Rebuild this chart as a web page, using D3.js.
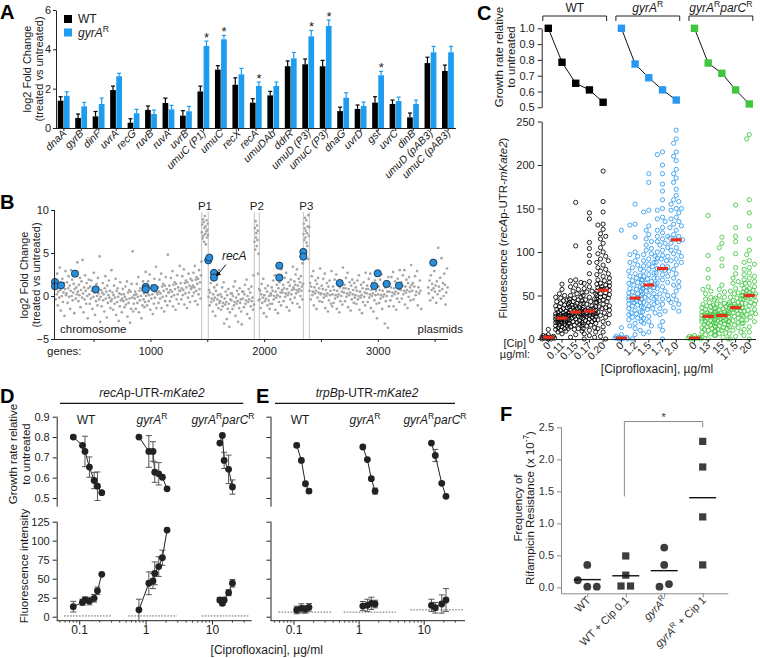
<!DOCTYPE html>
<html><head><meta charset="utf-8">
<script src="https://cdn.jsdelivr.net/npm/d3@7/dist/d3.min.js"></script>
<style>
body{margin:0;background:#fff;}
svg{font-family:"Liberation Sans",Arial,Helvetica,sans-serif;}
.ax path,.ax line{stroke:#222;stroke-width:1;}
.ax text{font-size:11px;fill:#222;font-family:"Liberation Sans",Arial,sans-serif;}
.gx path,.gx line{stroke:#8a8a8a;stroke-width:1;}
.gx text{font-size:11px;fill:#333;font-family:"Liberation Sans",Arial,sans-serif;}
</style></head><body>
<svg id="fig" width="760" height="658"></svg>
<script>
// ===================== DATA =====================
// Panel A
const genesA = ["dnaA","gyrB","dinF","uvrA","recG","ruvB","ruvA","uvrB","umuC (P1)","umuC","recX","recA","umuDAb","ddrR","umuD (P3)","umuC (P3)","dnaG","uvrD","gst","uvrC","dinB","umuD (pAB3)","umuC (pAB3)"];
const wtA     = [1.39,0.51,0.59,1.93,0.27,0.92,1.27,0.63,1.86,2.97,2.20,1.29,1.66,3.14,3.24,3.14,0.86,0.97,1.29,1.22,0.54,3.30,2.90];
const wtErrA  = [0.20,0.20,0.25,0.20,0.20,0.20,0.25,0.25,0.27,0.20,0.35,0.20,0.20,0.27,0.27,0.30,0.20,0.20,0.30,0.20,0.22,0.30,0.30];
const gyrAvals= [1.64,1.10,1.22,2.63,0.75,0.71,0.95,0.85,4.17,4.51,2.73,2.14,2.14,3.54,4.66,5.19,1.54,1.12,2.68,1.37,1.22,3.85,3.85];
const gyrErrA = [0.20,0.20,0.30,0.15,0.20,0.20,0.20,0.25,0.25,0.20,0.30,0.20,0.20,0.30,0.30,0.30,0.25,0.20,0.20,0.20,0.20,0.30,0.30];
const starA   = ["umuC (P1)","umuC","recA","umuD (P3)","umuC (P3)","gst"];

// Panel B
const cloudStart = [160,260,360,460,560,660,760,860,960,1060,1160,1260,1360,1451,1509,1610,1710,1810,1914,1958,2060,2160,2260,2345,2398,2500,2600,2700,2800,2900,3000,3100,3200,3300,3440];
const cloudEnd   = [260,360,460,560,660,760,860,960,1060,1160,1260,1360,1451,1509,1610,1710,1810,1914,1958,2060,2160,2260,2345,2398,2500,2600,2700,2800,2900,3000,3100,3200,3300,3385,3617];
const cloudVals = [
[0.9,-0.4,1.8,0.2,2.6,-1.1,0.5,1.3,-0.2,3.3,0.7,-1.7,1.1,0.0,2.0,-0.7,0.4,1.5,-2.3,0.8,2.9,0.1],
[0.3,1.6,-0.8,0.9,2.3,-0.1,1.2,-1.5,0.6,3.0,0.0,1.9,-0.5,0.4,1.4,-2.0,0.8,2.5,-0.3,1.0,0.2,3.9],
[0.5,-0.6,1.3,0.1,2.1,-1.3,0.7,1.7,-0.2,4.2,0.3,-1.9,1.0,-0.4,2.4,0.6,-0.9,1.5,0.0,-2.6,0.9,1.9],
[0.2,-0.9,1.1,-0.3,1.8,0.6,-1.5,0.9,-0.1,2.7,0.4,-2.2,0.8,-0.6,1.4,0.0,-1.1,2.1,0.3,-0.4,4.6,-3.0],
[-0.1,0.7,-1.2,0.4,1.5,-0.5,0.2,-1.8,0.9,2.3,-0.3,0.5,-2.5,1.2,-0.8,0.1,1.8,-0.2,0.6,-1.4,-0.6,3.0],
[-0.4,0.4,-1.6,0.1,1.2,-0.9,-0.2,2.0,-2.2,0.6,-0.7,0.9,-0.1,-2.9,0.3,-1.2,1.6,-0.5,0.2,-1.9,-0.3,0.8],
[-0.6,0.2,-1.3,-0.1,1.1,-1.0,-0.4,1.7,-2.4,0.4,-0.8,0.7,-0.3,-3.1,0.5,-1.5,1.4,-0.2,5.2,-1.8,-0.9,0.1],
[-0.3,0.5,-1.5,0.2,1.4,-0.8,-0.1,2.2,-1.9,0.6,-0.5,0.9,0.0,-2.6,0.7,-1.1,1.7,-0.4,0.3,-1.3,-0.7,2.8],
[0.0,0.7,-1.1,0.3,1.7,-0.6,0.1,2.5,-1.6,0.9,-0.3,1.2,0.2,-2.1,1.0,-0.9,2.0,-0.2,0.5,3.4,-1.4,0.4],
[0.2,1.0,-0.8,0.5,1.9,-0.3,0.3,2.6,-1.4,1.1,-0.1,1.4,0.6,-1.8,1.2,-0.6,2.2,0.0,0.8,-1.1,4.8,0.4],
[0.4,1.2,-0.6,0.7,2.1,-0.1,0.5,2.9,-1.2,1.3,0.1,1.6,0.8,-1.6,1.4,-0.4,2.4,0.2,1.0,-0.9,0.6,3.5],
[0.6,1.5,-0.4,0.9,2.3,0.1,0.7,3.1,-1.0,1.5,0.3,1.8,1.0,-1.4,1.6,-0.2,2.6,0.4,1.2,-0.7,2.0,0.8],
[1.0,1.8,0.0,1.2,2.7,0.4,1.0,3.5,-0.6,1.9,0.6,2.2,1.4,-1.0,2.0,0.2,3.0,0.8,1.6,-0.3,2.4,4.0],
[7.4,8.3,6.7,8.9,7.0,8.6,6.3,7.9,9.3,7.2,8.1,6.0,7.5,8.8,6.8,7.7,8.4,7.1],
[-0.1,0.7,-1.1,0.4,1.5,-0.7,-0.3,2.1,-1.8,0.2,-0.5,1.0,-0.2,-2.3,0.6,-1.0,1.3,-0.4,0.1,-1.4,3.0,-0.8],
[-0.6,0.2,-1.6,-0.1,1.0,-1.2,-0.8,1.6,-3.2,-0.3,-1.0,0.5,-0.7,-2.7,0.1,-1.5,0.8,-0.9,-3.6,-1.9,-0.4,0.3],
[-0.5,0.3,-1.5,0.0,1.1,-1.1,-0.7,1.7,-2.3,-0.2,-0.9,0.6,-0.6,-3.0,0.2,-1.4,0.9,-0.8,-0.4,-1.8,-3.3,0.5],
[-0.3,0.5,-1.3,0.2,1.3,-0.9,-0.5,1.9,-2.1,0.0,-0.7,0.8,-0.4,-2.6,0.4,-1.2,1.1,-0.6,-0.2,-1.6,2.4,-1.0],
[6.3,7.9,5.4,8.7,6.8,7.3,5.8,8.2,6.5,7.6,2.6,4.9,-0.5,0.8],
[-0.4,0.6,-1.4,0.2,1.4,-0.8,-0.2,2.0,-2.0,0.1,-0.6,0.9,-0.3,-2.4,0.5,-1.1,1.2,-0.5,0.0,-1.5,-0.9,0.3],
[0.1,1.0,-0.9,0.6,1.8,-0.4,0.0,2.4,-1.6,0.5,-0.2,1.3,0.1,-2.0,0.9,-0.7,1.6,-0.1,0.4,-1.1,3.1,0.7],
[0.4,1.3,-0.6,0.9,2.1,-0.1,0.3,2.7,-1.3,0.8,0.1,1.6,0.4,-1.7,1.2,-0.4,1.9,0.2,0.7,-0.8,3.4,1.0],
[0.8,1.7,-0.2,1.3,2.5,0.3,0.7,3.1,-0.9,1.2,0.5,2.0,0.8,-1.3,1.6,0.0,2.3,0.6,1.1,-0.4,3.8,1.4],
[7.2,8.4,6.5,7.9,9.1,6.8,7.6,8.8,6.2,7.3,5.8,8.1,4.3,9.4,7.0,8.0],
[0.6,1.5,-0.4,1.1,2.3,0.1,0.5,2.9,-1.1,1.0,0.3,1.8,0.6,-1.5,1.4,-0.2,2.1,0.4,0.9,-0.6,3.2,0.2],
[0.3,1.2,-0.7,0.8,2.0,-0.2,0.2,2.6,-1.4,0.7,0.0,1.5,0.3,-1.8,1.1,-0.5,1.8,0.1,0.6,-0.9,2.9,-1.2],
[0.2,1.1,-0.8,0.7,1.9,-0.3,0.1,2.5,-1.5,0.6,-0.1,1.4,0.2,-1.9,1.0,-0.6,1.7,0.0,0.5,-1.0,3.3,0.9],
[0.4,1.3,-0.6,0.9,2.1,-0.1,0.3,2.7,-1.3,0.8,0.1,1.6,0.4,-1.7,1.2,-0.4,1.9,0.2,0.7,-0.8,1.5,-0.2],
[0.1,1.0,-0.9,0.6,1.8,-0.4,0.0,2.4,-1.6,0.5,-0.2,1.3,0.1,-2.0,0.9,-0.7,1.6,-0.1,0.4,-1.1,2.7,0.8],
[0.3,1.2,-0.7,0.8,2.0,-0.2,0.2,2.6,-1.4,0.7,0.0,1.5,0.3,-1.8,1.1,-0.5,1.8,0.1,0.6,-0.9,-2.6,1.2],
[0.2,1.1,-0.8,0.7,1.9,-0.3,0.1,2.5,-1.5,0.6,-0.1,1.4,0.2,-3.2,1.0,-0.6,1.7,0.0,0.5,-3.7,2.2,-1.2],
[0.5,1.4,-0.5,1.0,2.2,0.0,0.4,2.8,-1.2,0.9,0.2,1.7,0.5,-1.6,1.3,-0.3,2.0,0.3,0.8,-0.7,3.0,1.1],
[0.7,1.6,-0.3,1.2,2.4,0.2,0.6,3.0,-1.0,1.1,0.4,1.9,0.7,-1.4,1.5,-0.1,2.2,0.5,1.0,-0.5,3.6,1.3],
[0.6,1.5,-0.4,1.1,2.3,0.1,0.5,2.9,-1.1,1.0,0.3,1.8,0.6,-1.5],
[1.0,0.3,1.8,-0.5,2.4,0.7,1.4,-0.2,0.9,2.9,0.5,1.2,-0.8,1.7,0.2,5.6,1.1,0.6,2.1,-0.3,4.4,0.8,1.5,0.0,2.6,1.3,-1.0,0.4,3.2,1.0]
];
const hiGenes = [161,161,214,337,519,959,959,1034,1509,1518,1559,1559,2134,2134,2345,2345,2665,2969,2999,3078,3186,3488];
const hiVals  = [1.63,1.13,1.24,2.60,0.78,1.05,0.78,0.93,4.15,4.46,2.68,2.14,3.53,2.14,5.12,4.58,1.51,1.16,2.64,1.40,1.21,3.88];
const prophageEdges = [1451,1509,1914,1958,2345,2398];
const prophageNames = ["P1","P2","P3"];
const xTicksB = [1000,2000,3000];

// Panel C
const cGroups = [[["WT",""]],[["gyrA","i"],["R","s"]],[["gyrA","i"],["R","s"],["parC","i"],["R","s"]]];
const cCip = [["0","0.11","0.15","0.17","0.20"],["0","1.2","1.5","1.7","2.0"],["0","13","15","17.5","20"]];
const cGrowth = [[1.0,0.785,0.652,0.61,0.532],[1.0,0.774,0.687,0.61,0.546],[1.0,0.78,0.715,0.61,0.521]];
const cMedians = [[2,24,31,32,56],[1,47,62,81,114],[1,26,27,36,50]];
const cColors = ["#000000","#2a98f0","#3fc63f"];
const cFluor = [
 [
  [0,1,2,3,1,0,2,4,11,5,1,3,0,2],
  [24,18,31,12,27,45,8,22,36,15,29,50,20,26,11,33,41,19,25,6,38,23,14,30,47,21,17,28,35,63,9,24,43,16,27,32,13,52,22,39,18,26,57,25,20,34,10,28,44,23,15,30,48,19,37,21,27,12,24,40],
  [31,22,45,15,38,62,9,28,52,19,35,67,26,41,12,33,48,24,30,5,57,36,18,43,29,68,14,39,27,107,21,47,32,55,16,37,25,60,34,157,20,42,30,11,50,28,65,23,36,17,44,31,2,53,26,40,33,19,46,29],
  [32,20,48,10,38,64,4,27,55,15,36,88,24,43,8,33,60,21,30,0,75,35,13,45,28,96,17,40,26,111,22,50,31,58,12,37,25,138,34,145,19,42,29,6,52,27,66,23,35,16,46,30,2,104,26,41,33,18,54,29],
  [56,35,82,18,67,105,8,48,92,28,60,118,42,75,14,58,98,38,52,3,131,62,22,78,46,158,30,70,50,193,40,85,55,100,25,65,44,132,59,146,33,72,53,12,88,49,110,37,63,27,80,57,0,121,45,68,61,31,95,51,115,20,74,43,90,57,36,126,64,47]
 ],
 [
  [0,1,2,0,3,1,13,5,0,2,125,1],
  [47,30,68,15,55,90,5,38,78,22,50,100,35,62,10,45,85,28,42,131,72,52,18,65,40,155,25,58,44,117,33,70,48,95,20,60,39,132,53,80,26,64,46,0,88,42,75,31,57,24,67,49,12,97,37,82,54,29,73,45],
  [62,40,88,20,72,115,8,52,98,30,66,125,46,80,15,60,108,36,56,146,92,68,24,84,50,190,34,76,58,180,42,95,64,120,26,78,52,148,70,102,35,83,61,6,112,55,97,44,74,31,86,63,18,130,48,104,69,38,90,59],
  [81,52,115,28,95,150,10,68,128,40,88,170,60,105,20,78,140,48,74,200,118,90,32,110,65,215,45,100,76,190,55,125,84,160,35,102,70,212,92,135,46,108,80,0,148,72,122,58,96,42,112,83,15,178,64,138,93,50,118,79],
  [114,85,150,45,130,195,32,100,165,60,120,215,90,140,40,110,180,75,105,240,155,125,55,145,95,230,70,135,112,205,80,160,118,190,50,138,102,225,128,172,66,148,115,36,185,98,158,88,132,62,150,116,42,210,92]
 ],
 [
  [0,1,2,0,3,1,0,4,2,1],
  [26,15,38,6,30,48,2,20,42,10,28,55,18,34,4,25,45,13,22,96,36,27,8,32,19,142,11,29,24,70,16,40,26,60,9,31,21,52,28,80,14,35,25,0,46,23,39,17,30,12,37,27,5,57,20],
  [27,16,40,7,31,50,2,21,44,11,29,57,19,35,4,26,47,14,23,92,37,28,9,33,20,117,12,30,25,110,17,41,27,62,10,32,22,54,29,84,15,36,26,0,48,24,40,18,31,13,38,28,6,105,21],
  [36,22,52,10,42,66,3,30,58,16,38,75,26,46,6,34,62,20,32,112,48,37,13,44,28,154,18,40,35,128,24,55,36,82,14,42,30,70,38,98,21,47,35,0,64,33,53,25,41,19,50,37,8,118,29],
  [50,30,72,14,58,90,4,42,80,22,52,102,36,64,8,48,86,28,44,160,66,51,18,60,38,230,25,56,49,145,33,76,50,115,20,58,41,97,53,130,29,64,48,0,88,46,74,34,56,26,70,51,11,235,40,82,54,32,68,47]
 ]
];

// Panels D / E
const doseGroups = [[["WT",""]],[["gyrA","i"],["R","s"]],[["gyrA","i"],["R","s"],["parC","i"],["R","s"]]];
const dConc = [[0.08,0.11,0.12,0.14,0.165,0.185,0.215],[0.78,1.10,1.27,1.35,1.55,1.76,2.07],[12.9,14.1,15.0,17.5,20.0]];
const dGrowth = [[0.80,0.759,0.729,0.652,0.586,0.558,0.526],[0.80,0.729,0.729,0.627,0.619,0.602,0.545],[0.770,0.808,0.685,0.641,0.554]];
const dGrowthErr = [[0.008,0,0.075,0.05,0.04,0.07,0],[0,0.078,0.048,0.05,0.055,0,0],[0,0,0.04,0.07,0.035]];
const dFluor = [[13.2,19,22,20.6,24.2,34,55.8],[9,44,47,57,66,77.6,114],[22,17.6,22,31.6,44]];
const dFluorErr = [[7,4,4,5,5,5,0],[14,15,10,15,13,10,0],[3,3,3,4,5]];
const dBaseLo = [0.058,0.54,6.9], dBaseHi = [0.30,2.9,36], dBaseVal = [1,1,1];
const eConc = [[0.11,0.13,0.15,0.17],[1.14,1.34,1.54,1.76],[12.9,14.8,18.6,21.6]];
const eGrowth = [[0.759,0.685,0.57,0.534],[0.751,0.689,0.595,0.534],[0.77,0.709,0.572,0.508]];
const eGrowthErr = [[0.01,0,0,0.01],[0,0,0,0.015],[0,0.03,0,0]];
const eFluor = [[8.8,11,9.7,12.4],[14,15,17.6,16.7],[15,11.8,16.7,22]];
const eFluorErr = [[5,6,5,5],[6,8,8,5],[8,7,12,15]];
const eBaseLo = [0.058,0.58,6.1], eBaseHi = [0.385,3.66,39.8], eBaseVal = [6,6,9];
const logMajor = [0.1,1,10];
const logMinor = [0.05,0.06,0.07,0.08,0.09,0.2,0.3,0.4,0.5,0.6,0.7,0.8,0.9,2,3,4,5,6,7,8,9,20,30];

// Panel F
const fCats = ["WT","WT + Cip 0.1","gyrAR","gyrAR + Cip 1"];
const fLabels = [[["WT",""]],[["WT + Cip 0.1",""]],[["gyrA","i"],["R","s"]],[["gyrA","i"],["R","s"],[" + Cip 1",""]]];
const fVals = [[0.35,0.11,0.01,0.01],[0.49,0.19,0.02,0.02],[0.62,0.35,0.01,0.05],[2.28,1.88,1.10,0.35]];
const fMeans = [0.12,0.18,0.26,1.40];
const fShapes = ["circle","square","circle","square"];

// ===================== HELPERS =====================
const svg = d3.select("#fig");
const INK = "#1a1a1a";
function rich(parent, x, y, parts, o = {}) {
  const size = o.size || 11;
  const t = parent.append("text").attr("x", x).attr("y", y).attr("font-size", size)
    .attr("text-anchor", o.anchor || "middle").attr("fill", o.fill || INK);
  if (o.bold) t.attr("font-weight", "bold");
  if (o.rotate != null) t.attr("transform", `rotate(${o.rotate},${x},${y})`);
  let up = false;
  parts.forEach(([s, st]) => {
    const ts = t.append("tspan").text(s);
    if (st.includes("i")) ts.attr("font-style", "italic");
    if (st.includes("s")) { ts.attr("font-size", size * 0.72).attr("dy", -size * 0.4); up = true; }
    else if (up) { ts.attr("dy", size * 0.4); up = false; }
  });
  return t;
}
function label(parent, x, y, s, o = {}) { return rich(parent, x, y, [[s, o.italic ? "i" : ""]], o); }

// panel letters
[["A",0,19],["B",0,209],["C",477,20],["D",0,403],["E",256,403],["F",500,421]]
  .forEach(([s,x,y]) => label(svg, x, y, s, {size:20, bold:true, anchor:"start", fill:"#000"}));

// ===================== PANEL A =====================
{
  const g = svg.append("g");
  const xA = d3.scaleBand().domain(genesA).range([56,456]).paddingInner(0.3).paddingOuter(0.1);
  const yA = d3.scaleLinear().domain([0,6]).range([128,10]);
  const hb = xA.bandwidth()/2;
  function bars(vals, errs, off, color) {
    g.append("g").selectAll("rect").data(genesA).join("rect")
      .attr("x", d => xA(d)+off).attr("width", hb-0.4)
      .attr("y", (d,i) => yA(vals[i])).attr("height", (d,i) => yA(0)-yA(vals[i])).attr("fill", color);
    const eb = g.append("g").attr("stroke", color).attr("stroke-width", 1.2);
    genesA.forEach((d,i) => {
      const cx = xA(d)+off+hb/2-0.2, top = yA(vals[i]+errs[i]);
      eb.append("line").attr("x1",cx).attr("x2",cx).attr("y1",yA(vals[i])).attr("y2",top);
      eb.append("line").attr("x1",cx-2).attr("x2",cx+2).attr("y1",top).attr("y2",top);
    });
  }
  bars(wtA, wtErrA, 0, "#000");
  bars(gyrAvals, gyrErrA, hb, "#1e9cf0");
  starA.forEach(d => { const i = genesA.indexOf(d);
    label(g, xA(d)+hb*1.5, yA(gyrAvals[i]+gyrErrA[i])+1, "*", {size:13}); });
  g.append("g").attr("class","ax").attr("transform","translate(56,0)")
    .call(d3.axisLeft(yA).tickValues([0,2,4,6]).tickSize(3).tickPadding(2).tickSizeOuter(0).tickFormat(d3.format("d")))
    .call(a => a.selectAll("text").attr("font-size",11.5));
  g.append("g").attr("class","ax").attr("transform","translate(0,128)")
    .call(d3.axisBottom(xA).tickSize(3).tickSizeOuter(0).tickFormat(""))
    .call(a => a.select(".domain").attr("d","M56,0.5H456"));
  genesA.forEach(d => label(g, xA(d)+xA.bandwidth()/2+3, 134, d, {italic:true, anchor:"end", rotate:-45, size:10.5}));
  const leg = [["#000",[["WT",""]]],["#1e9cf0",[["gyrA","i"],["R","s"]]]];
  leg.forEach((d,i) => {
    g.append("rect").attr("x",64).attr("y",15+i*13.5).attr("width",8).attr("height",8).attr("fill",d[0]);
    rich(g, 78, 23+i*13.5, d[1], {anchor:"start", size:12});
  });
  label(g, 31, 69, "log2 Fold Change", {rotate:-90, size:11});
  label(g, 43, 69, "(treated vs untreated)", {rotate:-90, size:11});
}

// ===================== PANEL B =====================
{
  const g = svg.append("g");
  const xB = d3.scaleLinear().domain([0,4000]).range([36.7,491.5]);
  const yB = d3.scaleLinear().domain([-5,10]).range([339,210]);
  prophageEdges.forEach(e => g.append("line").attr("x1",xB(e)).attr("x2",xB(e)).attr("y1",212).attr("y2",339)
    .attr("stroke","#c4c4c4").attr("stroke-width",1));
  prophageNames.forEach((n,k) => label(g, (xB(prophageEdges[2*k])+xB(prophageEdges[2*k+1]))/2, 210, n, {size:11.5}));
  const pts = [];
  cloudVals.forEach((vals,b) => {
    const s = cloudStart[b], e = cloudEnd[b];
    vals.forEach((v,i) => pts.push({gene: s+(i+0.5)*(e-s)/vals.length, v}));
  });
  g.append("g").selectAll("circle").data(pts).join("circle")
    .attr("cx", d => xB(d.gene)).attr("cy", d => yB(d.v)).attr("r", 1.35).attr("fill","#a6a6a6");
  g.append("g").selectAll("circle").data(hiGenes).join("circle")
    .attr("cx", d => xB(d)).attr("cy", (d,i) => yB(hiVals[i])).attr("r", 3.6)
    .attr("fill","#2a8fd8").attr("stroke","#14324f").attr("stroke-width",0.9);
  // recA annotation
  const iRec = 11;
  const tx = xB(hiGenes[iRec]), ty = yB(hiVals[iRec]);
  g.append("line").attr("x1",tx+12).attr("y1",ty-13).attr("x2",tx+3).attr("y2",ty-2).attr("stroke","#111").attr("stroke-width",1);
  g.append("path").attr("d",`M${tx+2},${ty-1}l1.2,-5.5l4,3.4z`).attr("fill","#111");
  label(g, tx+8, ty-18, "recA", {italic:true, anchor:"start", size:12});
  g.append("g").attr("class","ax").attr("transform","translate(54,0)")
    .call(d3.axisLeft(yB).tickValues([-5,0,5,10]).tickSize(3).tickPadding(2).tickSizeOuter(0))
    .call(a => a.select(".domain").attr("d","M0.5,210V339.5"));
  const ax = g.append("g").attr("class","ax").attr("transform","translate(0,339)")
    .call(d3.axisBottom(xB).tickValues([500,1000,1500,2000,2500,3000,3500]).tickSize(3).tickSizeOuter(0)
      .tickFormat(d => xTicksB.includes(d) ? d : ""))
    .call(a => a.select(".domain").attr("d","M54,0.5H448"));
  ax.selectAll("text").attr("dy","0.9em");
  label(g, 60, 333, "chromosome", {anchor:"start", size:11.5});
  label(g, 463, 333, "plasmids", {anchor:"end", size:11.5});
  label(g, 47, 355, "genes:", {anchor:"start", size:11.5});
  label(g, 28, 275, "log2 Fold Change", {rotate:-90, size:11});
  label(g, 40, 275, "(treated vs untreated)", {rotate:-90, size:11});
}

// ===================== PANEL C =====================
{
  const g = svg.append("g");
  const slot = (k,i) => k*(5+1/3)+i;
  const xC = d3.scaleLinear().domain([0,14+2/3]).range([548.3,749.3]);
  const yCg = d3.scaleLinear().domain([0.5,1.0]).range([107.3,28.3]);
  const yCf = d3.scaleLinear().domain([0,250]).range([339,121.5]);
  // headers
  cGroups.forEach((parts,k) => {
    const x0 = xC(slot(k,0))-5.5, x1 = xC(slot(k,4))+3.5;
    g.append("path").attr("d",`M${x0},21V16H${x1}V21`).attr("fill","none").attr("stroke","#222");
    rich(g, (x0+x1)/2, 12, parts, {size:12});
  });
  // growth
  g.append("g").attr("class","ax").attr("transform","translate(541.7,0)")
    .call(d3.axisLeft(yCg).tickValues([0.5,0.6,0.7,0.8,0.9,1.0]).tickSize(4).tickSizeOuter(0).tickFormat(d3.format(".1f")));
  cGrowth.forEach((vals,k) => {
    const line = d3.line().x((d,i) => xC(slot(k,i))).y(d => yCg(d));
    g.append("path").attr("d", line(vals)).attr("fill","none").attr("stroke","#111").attr("stroke-width",1);
    g.append("g").selectAll("rect").data(vals).join("rect")
      .attr("x",(d,i) => xC(slot(k,i))-3.7).attr("y", d => yCg(d)-3.7).attr("width",7.4).attr("height",7.4)
      .attr("fill", cColors[k]);
  });
  // fluorescence swarm
  function swarm(vals, cx, r) {
    const pts = vals.map(v => ({v, y: yCf(v)})).sort((a,b) => a.y-b.y);
    const placed = [];
    const cands = [0,-2.6,2.6,-5.2,5.2,-1.3,1.3,-3.9,3.9,-6.3,6.3];
    pts.forEach(p => {
      let best = 0, bestD = -1;
      for (const o of cands) {
        let md = Infinity;
        for (const q of placed) { const dy = p.y-q.y; if (Math.abs(dy) < 8) md = Math.min(md, Math.hypot(o-q.o, dy)); }
        if (md >= 2*r) { best = o; bestD = md; break; }
        if (md > bestD) { bestD = md; best = o; }
      }
      p.o = best; placed.push(p);
    });
    return pts.map(p => ({x: cx+p.o, y: p.y}));
  }
  cFluor.forEach((cols,k) => cols.forEach((vals,i) => {
    const sp = swarm(vals, xC(slot(k,i)), 2.3);
    g.append("g").selectAll("circle").data(sp).join("circle")
      .attr("cx", d => d.x).attr("cy", d => d.y).attr("r", 2.1)
      .attr("fill","none").attr("stroke", cColors[k]).attr("stroke-width",0.85);
  }));
  cMedians.forEach((meds,k) => g.append("g").selectAll("rect").data(meds).join("rect")
    .attr("x",(d,i) => xC(slot(k,i))-5.5).attr("y", d => yCf(d)-1.6).attr("width",11).attr("height",3.2)
    .attr("fill","#e5301c"));
  g.append("g").attr("class","ax").attr("transform","translate(541.7,0)")
    .call(d3.axisLeft(yCf).tickValues([0,50,100,150,200,250]).tickSize(4).tickSizeOuter(0));
  const xg = g.append("g").attr("class","ax");
  xg.append("line").attr("x1",541.7).attr("x2",756).attr("y1",339.5).attr("y2",339.5);
  cCip.forEach((labs,k) => labs.forEach((s,i) => {
    const x = xC(slot(k,i));
    xg.append("line").attr("x1",x).attr("x2",x).attr("y1",339.5).attr("y2",342.5);
    label(g, x+3, 346, s, {anchor:"end", rotate:-45, size:10.5});
  }));
  label(g, 526, 347, "[Cip]", {anchor:"end", size:11});
  label(g, 530, 358, "µg/ml:", {anchor:"end", size:11});
  label(g, 657, 373, "[Ciprofloxacin], µg/ml", {size:12});
  label(g, 503, 57, "Growth rate relative", {rotate:-90, size:11.5});
  label(g, 515, 57, "to untreated", {rotate:-90, size:11.5});
  rich(g, 507, 228, [["Fluorescence (",""],["recA","i"],["p-UTR-",""],["mKate2","i"],[")",""]], {rotate:-90, size:11.5});
}

// ===================== PANELS D & E =====================
const yDg = d3.scaleLinear().domain([0.5,0.9]).range([498,416.7]);
const yDf = d3.scaleLinear().domain([0,125]).range([616.7,521.7]);
const xD = d3.scaleLog().domain([0.045,39]).range([56.7,251.7]);
const xE = d3.scaleLog().domain([0.0436,42.3]).range([270.5,465]);
function drawDose(x, axX, showLabels, conc, gr, grE, fl, flE, bLo, bHi, bV, groupX, titleParts, titleX, lineX0, lineX1) {
  const g = svg.append("g");
  const ag = g.append("g").attr("class","ax").attr("transform",`translate(${axX},0)`)
    .call(d3.axisLeft(yDg).tickValues([0.5,0.6,0.7,0.8,0.9]).tickSize(4).tickSizeOuter(0).tickFormat(showLabels ? d3.format(".1f") : ""));
  ag.select(".domain").attr("d", `M0.5,${yDg(0.9)}V506.7`);
  const af = g.append("g").attr("class","ax").attr("transform",`translate(${axX},0)`)
    .call(d3.axisLeft(yDf).tickValues([0,25,50,75,100,125]).tickSize(4).tickSizeOuter(0).tickFormat(showLabels ? d3.format("d") : ""));
  af.select(".domain").attr("d", `M0.5,${yDf(125)}V620.7`);
  if (showLabels) { ag.selectAll("text").attr("font-size",12); af.selectAll("text").attr("font-size",12); }
  const [r0, r1] = x.range();
  g.append("line").attr("x1",r0).attr("x2",r1).attr("y1",620.7).attr("y2",620.7).attr("stroke","#222");
  logMinor.forEach(v => g.append("line").attr("x1",x(v)).attr("x2",x(v)).attr("y1",620.7).attr("y2",622.7).attr("stroke","#222").attr("stroke-width",0.8));
  logMajor.forEach(v => {
    g.append("line").attr("x1",x(v)).attr("x2",x(v)).attr("y1",620.7).attr("y2",624.7).attr("stroke","#222");
    label(g, x(v), 634, String(v), {size:12});
  });
  conc.forEach((cs,k) => {
    g.append("line").attr("x1",x(bLo[k])).attr("x2",x(bHi[k])).attr("y1",yDf(bV[k])).attr("y2",yDf(bV[k]))
      .attr("stroke","#444").attr("stroke-dasharray","1.6,1.4").attr("stroke-width",0.8);
    [[gr[k],grE[k],yDg],[fl[k],flE[k],yDf]].forEach(([vals,errs,ys]) => {
      const line = d3.line().x((d,i) => x(cs[i])).y(d => ys(d));
      g.append("path").attr("d", line(vals)).attr("fill","none").attr("stroke","#222").attr("stroke-width",1);
      vals.forEach((v,i) => { if (errs[i] > 0) {
        const cx = x(cs[i]), a = ys(v+errs[i]), b = ys(v-errs[i]);
        g.append("path").attr("d",`M${cx},${a}V${b}M${cx-3},${a}H${cx+3}M${cx-3},${b}H${cx+3}`)
          .attr("stroke","#555").attr("stroke-width",1).attr("fill","none");
      }});
      g.append("g").selectAll("circle").data(vals).join("circle")
        .attr("cx",(d,i) => x(cs[i])).attr("cy", d => ys(d)).attr("r",3.4).attr("fill","#222");
    });
    rich(g, groupX[k], 424, doseGroups[k], {size:12});
  });
  rich(g, titleX, 397, titleParts, {size:12});
  g.append("line").attr("x1",lineX0).attr("x2",lineX1).attr("y1",403.3).attr("y2",403.3).attr("stroke","#111").attr("stroke-width",1.2);
}
drawDose(xD, 56.7, true, dConc, dGrowth, dGrowthErr, dFluor, dFluorErr, dBaseLo, dBaseHi, dBaseVal, [86,152,223],
  [["recA","i"],["p-UTR-",""],["mKate2","i"]], 152, 60, 243.3);
drawDose(xE, 270.5, false, eConc, eGrowth, eGrowthErr, eFluor, eFluorErr, eBaseLo, eBaseHi, eBaseVal, [300,365,435],
  [["trpB","i"],["p-UTR-",""],["mKate2","i"]], 367, 275, 455);
{
  const g = svg.append("g");
  label(g, 17, 454, "Growth rate relative", {rotate:-90, size:11.5});
  label(g, 30, 454, "to untreated", {rotate:-90, size:11.5});
  label(g, 28, 566, "Fluorescence intensity", {rotate:-90, size:11.5});
  label(g, 266.7, 654, "[Ciprofloxacin], µg/ml", {size:12});
}

// ===================== PANEL F =====================
{
  const g = svg.append("g");
  const xF = d3.scalePoint().domain(fCats).range([587.3,702.7]);
  const yF = d3.scaleLinear().domain([0,2.5]).range([587.3,427.3]);
  g.append("g").attr("class","gx").attr("transform","translate(561,0)")
    .call(d3.axisLeft(yF).tickValues([0,0.5,1,1.5,2,2.5]).tickSize(4).tickSizeOuter(0).tickFormat(d3.format(".1f")))
    .call(a => a.select(".domain").attr("d","M0.5,427.3V593.3"))
    .call(a => a.selectAll("text").attr("font-size",11.5));
  g.append("g").attr("class","gx").attr("transform","translate(0,593.3)")
    .call(d3.axisBottom(xF).tickSize(4).tickSizeOuter(0).tickFormat(""))
    .call(a => a.select(".domain").attr("d","M561,0.5H728.3"));
  fCats.forEach((c,k) => {
    const idx = fVals[k].map((v,i) => i).sort((a,b) => fVals[k][a]-fVals[k][b]);
    const rows = []; let cur = [idx[0]];
    for (let j = 1; j < idx.length; j++) {
      if (Math.abs(yF(fVals[k][idx[j]]) - yF(fVals[k][idx[j-1]])) < 7) cur.push(idx[j]); else { rows.push(cur); cur = [idx[j]]; }
    }
    rows.push(cur);
    const off = [];
    rows.forEach(r => { r.sort((a,b) => a-b); r.forEach((i,j) => off[i] = (j-(r.length-1)/2)*9.5); });
    fVals[k].forEach((v,i) => {
      const cx = xF(c)+off[i], cy = yF(v);
      if (fShapes[k] === "circle") g.append("circle").attr("cx",cx).attr("cy",cy).attr("r",3.9).attr("fill","#3d3d3d");
      else g.append("rect").attr("x",cx-3.6).attr("y",cy-3.6).attr("width",7.2).attr("height",7.2).attr("fill","#3d3d3d");
    });
    g.append("line").attr("x1",xF(c)-13.5).attr("x2",xF(c)+13.5).attr("y1",yF(fMeans[k])).attr("y2",yF(fMeans[k]))
      .attr("stroke","#111").attr("stroke-width",1.4);
    rich(g, xF(c)+4, 601, fLabels[k], {anchor:"end", rotate:-45, size:11, fill:"#333"});
  });
  const bx0 = xF(fCats[1])-1.4, bx1 = xF(fCats[3]);
  g.append("path").attr("d",`M${bx0},${yF(1.42)}V${yF(2.59)}H${bx1}V${yF(2.5)}`).attr("fill","none").attr("stroke","#8a8a8a");
  label(g, (bx0+bx1)/2, yF(2.59)-1, "*", {size:11, fill:"#333"});
  label(g, 522, 508, "Frequency of", {rotate:-90, size:11.5});
  rich(g, 534, 508, [["Rifampicin Resistance (x 10",""],["-7","s"],[")",""]], {rotate:-90, size:11.5});
}
</script>
</body></html>
